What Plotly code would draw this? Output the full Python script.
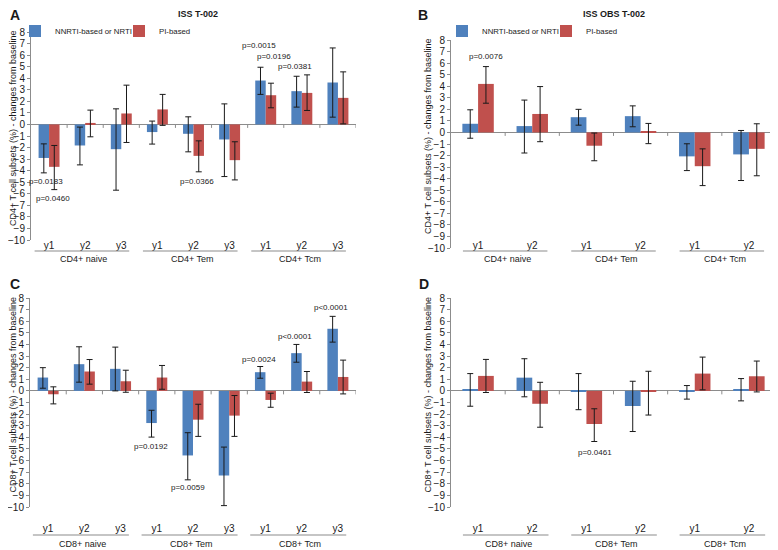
import plotly.graph_objects as go

## Datos (cambio desde el basal, %)
grupos_cd4 = ["CD4+ naive", "CD4+ Tem", "CD4+ Tcm"]
grupos_cd8 = ["CD8+ naive", "CD8+ Tem", "CD8+ Tcm"]
anios_iss = ["y1", "y2", "y3"]
anios_obs = ["y1", "y2"]
series = ["NNRTI-based or NRTI", "PI-based"]

# Panel A - ISS T-002, CD4+
a_nnrti = [-2.9, -1.82, -2.14, -0.66, -0.81, -1.3, 3.8, 2.88, 3.63]
a_nnrti_hi = [-1.68, -0.23, 1.35, 0.29, 0.66, 1.78, 4.95, 4.17, 6.62]
a_nnrti_lo = [-4.19, -3.5, -5.69, -1.7, -2.37, -4.51, 2.6, 1.5, 0.63]
a_pi = [-3.67, 0.13, 0.95, 1.3, -2.72, -3.09, 2.53, 2.73, 2.3]
a_pi_hi = [-1.82, 1.24, 3.4, 2.6, -1.42, -1.5, 3.57, 4.29, 4.55]
a_pi_lo = [-5.64, -1.07, -1.56, -0.08, -4.1, -4.8, 1.44, 1.21, 0.05]
a_p = ["p=0.0015", "p=0.0196", "p=0.0381", "p=0.0183", "p=0.0460", "p=0.0366"]
a_p_x = [5.81, 6.22, 6.80, -0.08, 0.11, 4.09]
a_p_y = [6.79, 5.87, 5.0, -4.94, -6.37, -4.94]

# Panel B - ISS OBS T-002, CD4+
b_nnrti = [0.75, 0.55, 1.32, 1.41, -2.07, -1.9]
b_nnrti_hi = [1.96, 2.8, 2.0, 2.3, -0.98, 0.17]
b_nnrti_lo = [-0.5, -1.78, 0.63, 0.49, -3.3, -4.16]
b_pi = [4.2, 1.6, -1.15, 0.04, -2.92, -1.42]
b_pi_hi = [5.7, 3.97, -0.05, 0.78, -1.42, 0.75]
b_pi_lo = [2.53, -0.8, -2.45, -0.97, -4.6, -3.75]
b_p = ["p=0.0076"]
b_p_x = [0.15]
b_p_y = [6.53]

# Panel C - ISS T-002, CD8+
c_nnrti = [1.15, 2.3, 1.9, -2.77, -5.56, -7.29, 1.61, 3.25, 5.35]
c_nnrti_hi = [2.0, 3.8, 3.77, -1.67, -3.6, -4.84, 2.1, 4.0, 6.42]
c_nnrti_lo = [0.23, 0.75, 0.0, -3.98, -7.66, -9.88, 1.09, 2.47, 4.2]
c_pi = [-0.29, 1.67, 0.83, 1.15, -2.48, -2.13, -0.78, 0.8, 1.2]
c_pi_hi = [0.35, 2.7, 1.78, 2.19, -1.15, -0.4, -0.2, 1.67, 2.65]
c_pi_lo = [-1.12, 0.58, -0.12, 0.14, -3.92, -3.92, -1.41, -0.14, -0.26]
c_p = ["p=0.0024", "p<0.0001", "p<0.0001", "p=0.0192", "p=0.0059", "p=0.0039"]
c_p_x = [5.82, 6.82, 7.81, 2.85, 3.86, 4.84]
c_p_y = [2.74, 4.67, 7.14, -4.77, -8.33, -10.56]

# Panel D - ISS OBS T-002, CD8+
d_nnrti = [0.1, 1.14, -0.05, -1.3, -0.09, 0.11]
d_nnrti_hi = [1.49, 2.77, 1.49, 0.83, 0.46, 1.06]
d_nnrti_lo = [-1.32, -0.51, -1.62, -3.5, -0.71, -0.86]
d_pi = [1.29, -1.11, -2.85, -0.09, 1.49, 1.26]
d_pi_hi = [2.71, 0.74, -1.54, 1.69, 2.91, 2.57]
d_pi_lo = [-0.14, -3.13, -4.36, -2.08, 0.09, -0.09]
d_p = ["p=0.0461"]
d_p_x = [2.16]
d_p_y = [-5.33]

AZUL = "#4F81BD"
ROJO = "#C0504D"
GRIS = "#8c8c8c"
TEXTO = "#1a1a1a"
FUENTE = "Liberation Sans, Arial, sans-serif"

# la pagina deja 8px de margen (body), asi que la figura se hace mas pequena
# y las posiciones se dan en pixeles de pantalla
MARGEN = 8
W, H = 778 - MARGEN, 550 - MARGEN


def px_x(p):
    return (p - MARGEN) / W


def px_y(p):
    return 1 - (p - MARGEN) / H


# caja de cada panel en pixeles: x0, x1, y_top(8), y_bottom(-10); fila de etiquetas
paneles = [
    dict(n="", letra="A", grupos=grupos_cd4, anios=anios_iss,
         nn=(a_nnrti, a_nnrti_hi, a_nnrti_lo), pi=(a_pi, a_pi_hi, a_pi_lo),
         p=(a_p, a_p_x, a_p_y), caja=(31, 356, 32, 240), fila=(245, 251, 259),
         ytit="CD4+ T cell subsets (%) - changes from baseline", xt=13, let=(8, 15),
         linea=(-0.40, 2.22), leyenda="legend"),
    dict(n="2", letra="B", grupos=grupos_cd4, anios=anios_obs,
         nn=(b_nnrti, b_nnrti_hi, b_nnrti_lo), pi=(b_pi, b_pi_hi, b_pi_lo),
         p=(b_p, b_p_x, b_p_y), caja=(451, 776, 40, 248), fila=(245, 251, 259),
         ytit="CD4+ T cell subsets (%) - changes from baseline", xt=428, let=(416, 15),
         linea=(-0.28, 1.28), leyenda="legend2"),
    dict(n="3", letra="C", grupos=grupos_cd8, anios=anios_iss,
         nn=(c_nnrti, c_nnrti_hi, c_nnrti_lo), pi=(c_pi, c_pi_hi, c_pi_lo),
         p=(c_p, c_p_x, c_p_y), caja=(30, 356, 298, 507), fila=(528, 535, 544),
         ytit="CD8+ T cell subsets (%) - changes from baseline", xt=13, let=(8, 284),
         linea=(-0.42, 2.23), leyenda=None),
    dict(n="4", letra="D", grupos=grupos_cd8, anios=anios_obs,
         nn=(d_nnrti, d_nnrti_hi, d_nnrti_lo), pi=(d_pi, d_pi_hi, d_pi_lo),
         p=(d_p, d_p_x, d_p_y), caja=(451, 776, 298, 507), fila=(528, 535, 544),
         ytit="CD8+ T cell subsets (%) - changes from baseline", xt=428, let=(417, 284),
         linea=(-0.28, 1.3), leyenda=None),
]

fig = go.Figure()
shapes = []
annotations = []
layout_ejes = {}


def texto(t, x, y, xref="paper", yref="paper", size=9, xanchor="center", **kw):
    return dict(text=t, x=x, y=y, xref=xref, yref=yref, showarrow=False,
                xanchor=xanchor, yanchor="middle", font=dict(size=size, color=TEXTO), **kw)


for pn in paneles:
    xr = "x" + pn["n"]
    yr = "y" + pn["n"]
    cats = [g + " " + a for g in pn["grupos"] for a in pn["anios"]]
    etiquetas = [a for g in pn["grupos"] for a in pn["anios"]]
    ncat = len(cats)
    m = len(pn["anios"])

    for nombre, color, (vals, hi, lo) in [(series[0], AZUL, pn["nn"]), (series[1], ROJO, pn["pi"])]:
        fig.add_trace(go.Bar(
            x=cats, y=vals, name=nombre, marker=dict(color=color, line=dict(width=0)),
            error_y=dict(type="data", symmetric=False,
                         array=[h - v for h, v in zip(hi, vals)],
                         arrayminus=[v - l for v, l in zip(vals, lo)],
                         color=TEXTO, thickness=1, width=3),
            xaxis=xr, yaxis=yr,
            showlegend=pn["leyenda"] is not None,
            legend=pn["leyenda"] if pn["leyenda"] else "legend",
        ))

    x0, x1, yt, yb = pn["caja"]
    fila_tick, fila_linea, fila_grupo = pn["fila"]
    layout_ejes["xaxis" + pn["n"]] = dict(
        domain=[px_x(x0), px_x(x1)], anchor="free", position=px_y(fila_tick - 7),
        type="category", tickvals=cats, ticktext=etiquetas, range=[-0.5, ncat - 0.5],
        showline=False, showgrid=False, zeroline=False, ticks="", automargin=False,
        tickfont=dict(size=10, color=TEXTO),
    )
    layout_ejes["yaxis" + pn["n"]] = dict(
        domain=[px_y(yb), px_y(yt)], anchor=xr, range=[-10, 8], automargin=False,
        tickvals=list(range(-10, 9)), ticks="outside", ticklen=3, tickcolor=GRIS,
        showline=True, linecolor=GRIS, linewidth=1, showgrid=False,
        zeroline=True, zerolinecolor=GRIS, zerolinewidth=1,
        tickfont=dict(size=10, color=TEXTO),
    )

    # marcas de separacion sobre la linea del cero
    for k in range(1, ncat + 1):
        shapes.append(dict(type="line", xref=xr, yref=yr, x0=k - 0.5, x1=k - 0.5,
                           y0=0, y1=-0.3, line=dict(color=GRIS, width=1)))
    # lineas y nombres de grupo
    lo_off, hi_off = pn["linea"]
    for gi, g in enumerate(pn["grupos"]):
        shapes.append(dict(type="line", xref=xr, yref="paper",
                           x0=gi * m + lo_off, x1=gi * m + hi_off,
                           y0=px_y(fila_linea), y1=px_y(fila_linea),
                           line=dict(color=GRIS, width=1.2)))
        annotations.append(texto(g, gi * m + (lo_off + hi_off) / 2 + 0.05, px_y(fila_grupo),
                                 xref=xr))
    # valores p
    for t, px, py in zip(*pn["p"]):
        annotations.append(texto(t, px, py, xref=xr, yref=yr, size=8))
    # titulo eje y
    annotations.append(texto(pn["ytit"], px_x(pn["xt"]), px_y((yt + yb) / 2 - 8),
                             textangle=-90))
    # letra del panel
    annotations.append(texto("<b>" + pn["letra"] + "</b>", px_x(pn["let"][0]),
                             px_y(pn["let"][1]), size=14, xanchor="left"))

annotations.append(texto("<b>ISS T-002</b>", px_x(198), px_y(13.5)))
annotations.append(texto("<b>ISS OBS T-002</b>", px_x(614), px_y(13.5)))

ley = dict(orientation="h", xanchor="left", yanchor="middle", font=dict(size=7.8, color=TEXTO),
           bgcolor="rgba(0,0,0,0)", itemwidth=30, entrywidth=59, entrywidthmode="pixels")

fig.update_layout(
    width=W, height=H,
    margin=dict(l=0, r=0, t=0, b=0, autoexpand=False),
    paper_bgcolor="white", plot_bgcolor="white",
    font=dict(family=FUENTE, color=TEXTO),
    barmode="group", bargap=0.42, bargroupgap=0,
    shapes=shapes, annotations=annotations,
    legend=dict(ley, x=px_x(55 - 40), y=px_y(31)),
    legend2=dict(ley, x=px_x(482 - 40), y=px_y(31)),
    **layout_ejes,
)

fig.write_html("out.html")
